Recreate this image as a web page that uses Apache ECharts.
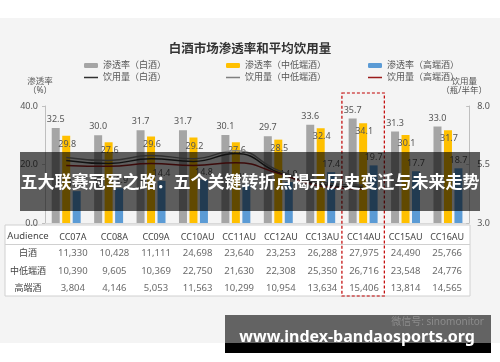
<!DOCTYPE html>
<html>
<head>
<meta charset="utf-8">
<script src="https://cdn.jsdelivr.net/npm/echarts@6/dist/echarts.min.js"></script>
<style>html,body{margin:0;padding:0;background:#fff}#c{width:500px;height:362px}</style>
</head>
<body>
<div id="c"></div>
<script>
const categories = ['CC07A','CC08A','CC09A','CC10AU','CC11AU','CC12AU','CC13AU','CC14AU','CC15AU','CC16AU'];
const penBaijiu = [32.5,30.0,31.7,31.7,30.1,29.7,33.6,35.7,31.3,33.0];
const penMid    = [29.8,27.6,29.6,29.2,27.6,28.5,32.4,34.1,30.1,31.7];
const penHigh   = [10.9,11.9,14.4,14.8,13.1,14.0,17.4,19.7,17.7,18.7];
const volMid    = [5.80,5.67,5.88,5.75,6.09,5.25,4.74,4.61,null,null];
const volBaijiu = [5.67,5.54,5.75,5.63,5.97,5.16,4.65,4.53,null,null];
const volHigh   = [5.46,5.42,5.54,5.46,5.58,5.12,4.57,4.44,null,null];
const leftTicks = [0,20,40];
const rightTicks = [3.0,5.5,8.0];
const rowNames = ['白酒','中低端酒','高端酒'];
const audBaijiu = [11330,10428,11111,24698,23640,23253,26288,27975,24490,25766];
const audMid    = [10390,9605,10369,22750,21630,22308,25350,26716,23548,24776];
const audHigh   = [3804,4146,5053,11563,10299,10954,13634,15406,13814,14565];
const highlightCat = 'CC14AU';

const FONT = '"Noto Sans","Noto Sans CJK SC",sans-serif';
const chart = echarts.init(document.getElementById('c'), null, {renderer:'canvas'});

const audRows = [audBaijiu, audMid, audHigh];
const tableData = [];
audRows.forEach((row, r) => row.forEach((v, i) => tableData.push([i, r, v])));

function legendAt(name, left, top, isLine, color){
  const l = {data:[name], left:left, top:top, padding:0, itemWidth:14, itemHeight:5,
          textStyle:{fontSize:9, color:'#555', fontFamily:FONT}};
  if (isLine){ l.icon = 'rect'; l.itemHeight = 1.5; l.itemStyle = {color:color}; }
  return l;
}

const option = {
  backgroundColor:'#fff',
  animation:false,
  textStyle:{fontFamily:FONT},
  title:{text:'白酒市场渗透率和平均饮用量', left:'center', top:38,
         textStyle:{fontSize:12.5, fontWeight:'bold', color:'#333', fontFamily:FONT}},
  legend:[
    legendAt('渗透率（白酒）',84,61,false),
    legendAt('渗透率（中低端酒）',226,61,false),
    legendAt('渗透率（高端酒）',368,61,false),
    legendAt('饮用量（白酒）',84,73,true,'#303030'),
    legendAt('饮用量（中低端酒）',226,73,true,'#7f7f7f'),
    legendAt('饮用量（高端酒）',368,73,true,'#9b1b1b')
  ],
  grid:[{left:45,right:28,top:106,bottom:139},{left:52,right:32,top:245,height:52}],
  xAxis:[
    {type:'category', data:categories, gridIndex:0, axisLabel:{show:false}, axisTick:{show:false},
     axisLine:{lineStyle:{color:'#d9d9d9'}}},
    {type:'category', data:categories, gridIndex:1, position:'top', axisLine:{show:false}, axisTick:{show:false},
     axisLabel:{interval:0, hideOverlap:false, margin:3, fontSize:9, color:'#444'}}
  ],
  yAxis:[
    {type:'value', gridIndex:0, min:0, max:40, interval:20, splitLine:{show:false},
     name:'渗透率\n（%）', nameLocation:'end', nameGap:11,
     nameTextStyle:{fontSize:8.5, color:'#555', align:'center', lineHeight:9, padding:[0,10,0,0]},
     axisLine:{show:true, lineStyle:{color:'#bfbfbf'}}, axisTick:{show:true, length:3, lineStyle:{color:'#bfbfbf'}},
     axisLabel:{fontSize:9, color:'#555', margin:7, formatter:v=>v.toFixed(1), customValues:leftTicks}},
    {type:'value', gridIndex:0, min:3, max:8, position:'right', splitLine:{show:false},
     name:'饮用量\n（瓶/半年）', nameLocation:'end', nameGap:11,
     nameTextStyle:{fontSize:8.5, color:'#555', align:'center', lineHeight:9, padding:[0,10,0,0]},
     axisLine:{show:true, lineStyle:{color:'#bfbfbf'}},
     axisTick:{show:true, length:3, inside:true, customValues:rightTicks, lineStyle:{color:'#bfbfbf'}},
     axisLabel:{fontSize:9, color:'#555', margin:8, formatter:v=>v.toFixed(1), customValues:rightTicks}},
    {type:'category', gridIndex:1, data:rowNames, inverse:true, axisLine:{show:false}, axisTick:{show:false},
     axisLabel:{interval:0, fontSize:9, color:'#444', align:'center', margin:24}}
  ],
  series:[
    {name:'渗透率（白酒）', type:'bar', data:penBaijiu, barWidth:8, barGap:'31%',
     itemStyle:{color:'#a5a5a5'},
     label:{show:true, position:'top', distance:4, fontSize:9, color:'#555', formatter:p=>p.value.toFixed(1)}},
    {name:'渗透率（中低端酒）', type:'bar', data:penMid, barWidth:8, barGap:'31%',
     itemStyle:{color:'#ffc000'},
     label:{show:true, position:'insideTop', distance:4, offset:[1,0], fontSize:9, color:'#555', formatter:p=>p.value.toFixed(1)}},
    {name:'渗透率（高端酒）', type:'bar', data:penHigh, barWidth:8, barGap:'31%',
     itemStyle:{color:'#5b9bd5'},
     label:{show:true, position:'top', distance:3, fontSize:9, color:'#555', formatter:p=>p.value.toFixed(1)}},
    {name:'饮用量（白酒）', type:'line', yAxisIndex:1, data:volBaijiu, smooth:true, symbol:'none',
     lineStyle:{width:1.5, color:'#303030'}, itemStyle:{color:'#303030'}},
    {name:'饮用量（中低端酒）', type:'line', yAxisIndex:1, data:volMid, smooth:true, symbol:'none',
     lineStyle:{width:1.5, color:'#7f7f7f'}, itemStyle:{color:'#7f7f7f'}},
    {name:'饮用量（高端酒）', type:'line', yAxisIndex:1, data:volHigh, smooth:true, symbol:'none',
     lineStyle:{width:1.5, color:'#9b1b1b'}, itemStyle:{color:'#9b1b1b'}},
    {name:'table', type:'scatter', xAxisIndex:1, yAxisIndex:2, data:tableData, symbolSize:1, silent:true,
     itemStyle:{color:'rgba(0,0,0,0)'}, z:4,
     label:{show:true, position:'inside', fontSize:9.5, color:'#444',
            formatter:p=>p.value[2].toLocaleString('en-US')}}
  ]
};
chart.setOption(option);

const cx = chart.convertToPixel({xAxisIndex:0}, highlightCat);
const band = chart.convertToPixel({xAxisIndex:0}, categories[1]) - chart.convertToPixel({xAxisIndex:0}, categories[0]);

chart.setOption({
  graphic:[
    {type:'rect', shape:{x:0,y:18,width:500,height:325}, style:{fill:'#f4f4f4'}, z:-10, silent:true},
    {type:'rect', shape:{x:5,y:225,width:465,height:71}, style:{fill:'#fff', stroke:'#d0d0d0', lineWidth:1}, z:-5, silent:true},
    {type:'line', shape:{x1:5,y1:244.5,x2:470,y2:244.5}, style:{stroke:'#d0d0d0', lineWidth:1}, z:-4, silent:true},
    {type:'text', x:28, y:236, style:{text:'Audience', fontSize:9.5, fill:'#444', textAlign:'center', textVerticalAlign:'middle', fontFamily:FONT}, z:3},
    {type:'rect', shape:{x:cx-band/2, y:93, width:band, height:203}, style:{fill:'none', stroke:'#c00000', lineWidth:1.2, lineDash:[3,2]}, z:5, silent:true},
    {type:'rect', shape:{x:20,y:152,width:460,height:59}, style:{fill:'rgba(0,0,0,0.62)'}, z:100, silent:true},
    {type:'text', x:250, y:182, style:{text:'五大联赛冠军之路：五个关键转折点揭示历史变迁与未来走势', fontSize:17, fontWeight:'bold', fill:'#fff', textAlign:'center', textVerticalAlign:'middle', fontFamily:'"Noto Sans CJK SC",sans-serif'}, z:101},
    {type:'rect', shape:{x:225,y:315,width:266,height:28}, style:{fill:'#636363'}, z:100, silent:true},
    {type:'rect', shape:{x:225,y:343,width:266,height:10}, style:{fill:'#000'}, z:100, silent:true},
    {type:'text', x:484, y:322, style:{text:'微信号: sinomonitor', fontSize:10, fill:'#8c8c8c', textAlign:'right', textVerticalAlign:'middle', fontFamily:FONT}, z:101},
    {type:'text', x:357, y:337, style:{text:'www.index-bandaosports.org', fontSize:16, fontWeight:'bold', fill:'#fff', textAlign:'center', textVerticalAlign:'middle', fontFamily:FONT}, z:102}
  ]
});
</script>
</body>
</html>
